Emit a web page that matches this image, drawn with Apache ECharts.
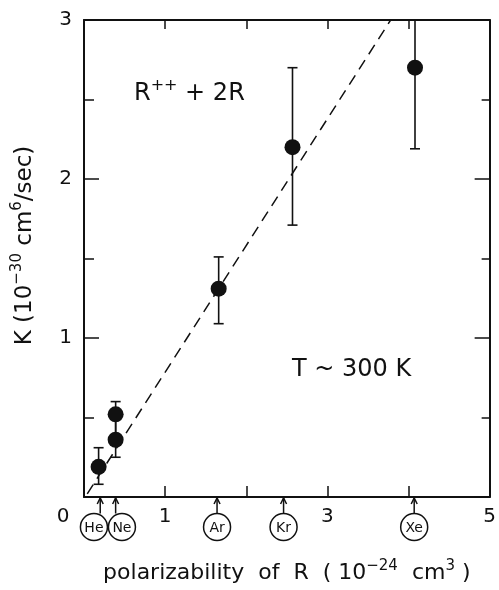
<!DOCTYPE html>
<html>
<head>
<meta charset="utf-8">
<script src="https://cdn.jsdelivr.net/npm/echarts@6/dist/echarts.min.js"></script>
<style>
  html, body { margin: 0; padding: 0; background: #fff; }
  #chart { width: 499px; height: 590px; }
</style>
</head>
<body>
<div id="chart"></div>
<script>
// measured points: polarizability (1e-24 cm3), K (1e-30 cm6/s), error bar ends
const pointX = [0.18, 0.39, 0.39, 1.66, 2.57, 4.08];
const pointK = [0.19, 0.52, 0.36, 1.31, 2.20, 2.70];
const errLow = [0.08, 0.36, 0.25, 1.09, 1.71, 2.19];
const errHigh = [0.31, 0.60, 0.52, 1.51, 2.70, 3.00];

// rare gas markers under the x axis
const elements = ['He', 'Ne', 'Ar', 'Kr', 'Xe'];
const elementX = [0.2, 0.39, 1.64, 2.46, 4.07];

// dashed fit line ends
const fitLine = [[0.04, 0.02], [3.78, 3.0]];

const xLabels = { 0: '0', 1: '1', 3: '3', 5: '5' };
const yLabels = { 1: '1', 2: '2', 3: '3' };

const INK = '#111';
const FONT = 'DejaVu Sans';

const chart = echarts.init(document.getElementById('chart'));

function renderErrorBar(params, api) {
  const x = api.value(0);
  const lo = api.coord([x, api.value(1)]);
  const hi = api.coord([x, api.value(2)]);
  const cap = 5;
  const style = { stroke: INK, lineWidth: 1.6 };
  return {
    type: 'group',
    children: [
      { type: 'line', shape: { x1: lo[0], y1: lo[1], x2: hi[0], y2: hi[1] }, style },
      { type: 'line', shape: { x1: lo[0] - cap, y1: lo[1], x2: lo[0] + cap, y2: lo[1] }, style },
      { type: 'line', shape: { x1: hi[0] - cap, y1: hi[1], x2: hi[0] + cap, y2: hi[1] }, style },
    ],
  };
}

function renderElement(params, api) {
  const i = params.dataIndex;
  const r = 13.5;
  const base = api.coord([elementX[i], 0]);
  let cx = base[0];
  // push neighbouring circles apart so they only touch
  const prev = i > 0 ? api.coord([elementX[i - 1], 0])[0] : null;
  const next = i < elementX.length - 1 ? api.coord([elementX[i + 1], 0])[0] : null;
  if (prev !== null && cx - prev < 2 * r + 1) cx += (2 * r + 1 - (cx - prev)) / 2;
  if (next !== null && next - cx < 2 * r + 1) cx -= (2 * r + 1 - (next - cx)) / 2;
  const cy = base[1] + 30;
  const ax = base[0];
  const style = { stroke: INK, lineWidth: 1.5, fill: null };
  return {
    type: 'group',
    children: [
      { type: 'circle', shape: { cx, cy, r }, style: { stroke: INK, lineWidth: 1.5, fill: '#fff' } },
      { type: 'line', shape: { x1: ax, y1: cy - r, x2: ax, y2: base[1] + 1 }, style },
      { type: 'polyline', shape: { points: [[ax - 3, base[1] + 7], [ax, base[1] + 1], [ax + 3, base[1] + 7]] }, style },
      {
        type: 'text',
        style: {
          x: cx, y: cy + 1, text: elements[i], align: 'center', verticalAlign: 'middle',
          font: '14px "' + FONT + '"', fill: INK,
        },
      },
    ],
  };
}

const frameLine = { show: true, onZero: false, lineStyle: { color: INK, width: 2 } };

chart.setOption({
  backgroundColor: '#fff',
  animation: false,
  textStyle: { fontFamily: FONT, color: INK },
  grid: { left: 84, right: 7, top: 20, bottom: 93 },
  xAxis: [
    {
      type: 'value', min: 0, max: 5, interval: 1,
      axisLine: frameLine,
      axisTick: { inside: true, length: 11, lineStyle: { color: INK, width: 1.5 } },
      axisLabel: {
        margin: 10, fontSize: 20, color: INK,
        formatter: (v) => (v === 0 ? '{o|0}' : xLabels[v] || ''),
        rich: { o: { fontSize: 20, color: INK, padding: [0, 42, 0, 0] } },
      },
      splitLine: { show: false },
      name: '{m|polarizability  of  R  ( 10}{s|−24}{m|  cm}{s|3}{m| )}',
      nameLocation: 'middle', nameGap: 62,
      nameTextStyle: {
        rich: {
          m: { fontSize: 22, color: INK },
          s: { fontSize: 15, color: INK, padding: [0, 0, 14, 0] },
        },
      },
    },
    {
      type: 'value', min: 0, max: 5, interval: 1, position: 'top',
      axisLine: frameLine,
      axisTick: { inside: true, length: 9, lineStyle: { color: INK, width: 1.5 } },
      axisLabel: { show: false },
      splitLine: { show: false },
    },
  ],
  yAxis: [
    {
      type: 'value', min: 0, max: 3, interval: 1,
      axisLine: frameLine,
      axisTick: { inside: true, length: 15, lineStyle: { color: INK, width: 1.5 } },
      minorTick: { show: true, splitNumber: 2, length: 10, lineStyle: { color: INK, width: 1.5 } },
      axisLabel: { margin: 12, fontSize: 20, color: INK, formatter: (v) => yLabels[v] || '' },
      splitLine: { show: false },
      minorSplitLine: { show: false },
      name: '{m|K (10}{s|−30}{m| cm}{s|6}{m|/sec)}',
      nameLocation: 'middle', nameRotate: 90, nameGap: 44,
      nameTextStyle: {
        padding: [0, 0, 0, 26],
        rich: {
          m: { fontSize: 23, color: INK },
          s: { fontSize: 15, color: INK, padding: [0, 0, 15, 0] },
        },
      },
    },
    {
      type: 'value', min: 0, max: 3, interval: 1, position: 'right',
      axisLine: frameLine,
      axisTick: { inside: true, length: 15, lineStyle: { color: INK, width: 1.5 } },
      minorTick: { show: true, splitNumber: 2, length: 8, lineStyle: { color: INK, width: 1.5 } },
      axisLabel: { show: false },
      splitLine: { show: false },
      minorSplitLine: { show: false },
    },
  ],
  graphic: [
    {
      type: 'text', left: 134, top: 78,
      style: { text: '{m|R}{s|++}{m| + 2R}', rich: {
        m: { fontSize: 24, fontFamily: FONT, fill: INK },
        s: { fontSize: 16, fontFamily: FONT, fill: INK, padding: [0, 0, 16, 0] },
      } },
    },
    {
      type: 'text', left: 292, top: 358,
      style: { text: 'T ~ 300 K', fontSize: 24, fontFamily: FONT, fill: INK },
    },
  ],
  series: [
    {
      type: 'line',
      data: fitLine,
      symbol: 'none',
      lineStyle: { color: INK, width: 1.5, type: [11, 7] },
      z: 1,
    },
    {
      type: 'custom',
      data: pointX.map((x, i) => [x, errLow[i], errHigh[i]]),
      renderItem: renderErrorBar,
      z: 2,
    },
    {
      type: 'scatter',
      data: pointX.map((x, i) => [x, pointK[i]]),
      symbol: 'circle',
      symbolSize: 16,
      itemStyle: { color: INK, opacity: 1 },
      z: 3,
    },
    {
      type: 'custom',
      data: elementX.map((x, i) => [x, i]),
      encode: { x: 0 },
      renderItem: renderElement,
      clip: false,
      z: 4,
    },
  ],
});
</script>
</body>
</html>
